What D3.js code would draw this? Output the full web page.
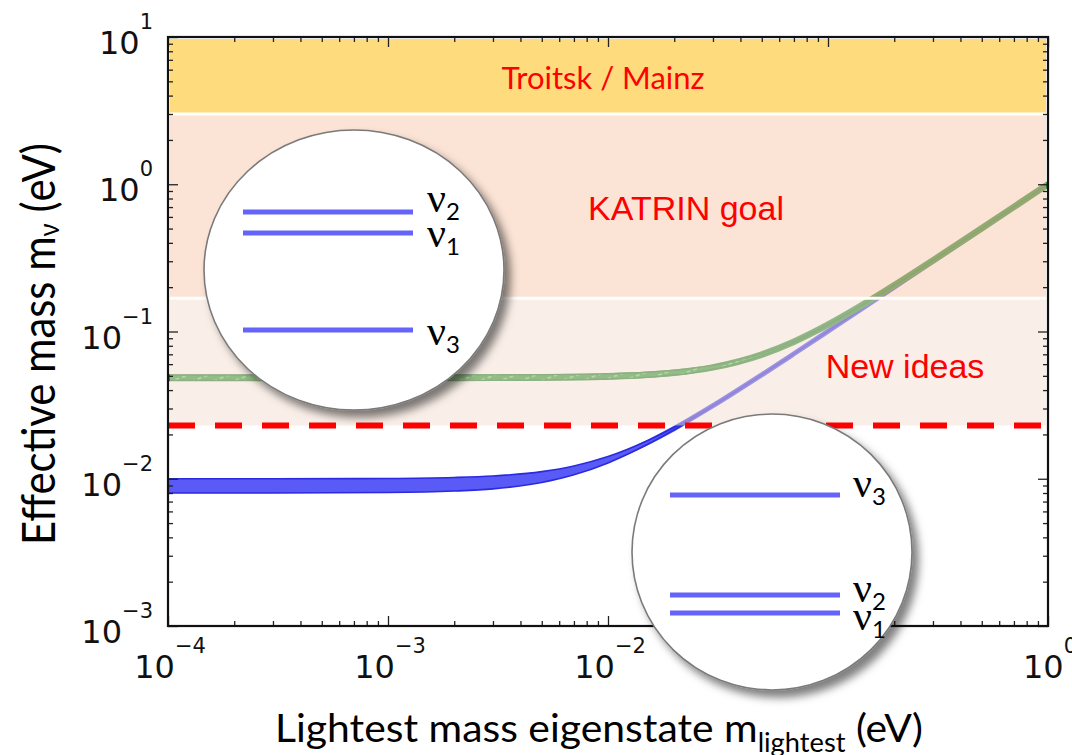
<!DOCTYPE html>
<html>
<head>
<meta charset="utf-8">
<script src="https://cdn.jsdelivr.net/npm/d3@7"></script>
<style>
  html, body { margin: 0; padding: 0; background: #fff; }
  svg { display: block; }
</style>
</head>
<body>
<svg id="chart" width="1072" height="755"></svg>
<script>
// ---- data -------------------------------------------------------------
// lightest neutrino mass eigenstate (eV)
const mLightest = [1e-4, 3e-4, 1e-3, 2e-3, 3e-3, 5e-3, 7e-3, 0.01, 0.015, 0.02,
                   0.03, 0.05, 0.07, 0.1, 0.15, 0.2, 0.3, 0.5, 0.7, 1.0];
// effective electron-neutrino mass band, normal ordering (eV)
const normalLow  = [0.0080, 0.0080, 0.00806, 0.00825, 0.00854, 0.00943, 0.01063, 0.01281, 0.0170, 0.02154,
                    0.03105, 0.05064, 0.07046, 0.1003, 0.1502, 0.2002, 0.3001, 0.5001, 0.7000, 1.0000];
const normalHigh = [0.0100, 0.0100, 0.01005, 0.0102, 0.01044, 0.01118, 0.01221, 0.01414, 0.01803, 0.02236,
                    0.03162, 0.05099, 0.07071, 0.1005, 0.1503, 0.2002, 0.3002, 0.5001, 0.7001, 1.0000];
// effective electron-neutrino mass band, inverted ordering (eV)
const invertedLow  = [0.0465, 0.0465, 0.0465, 0.04652, 0.04657, 0.04674, 0.0470, 0.04754, 0.04884, 0.0506,
                      0.05532, 0.06826, 0.08402, 0.1103, 0.1570, 0.2053, 0.3036, 0.5022, 0.7015, 1.0011];
const invertedHigh = [0.0507, 0.0507, 0.0507, 0.05073, 0.05078, 0.05094, 0.05118, 0.05167, 0.05287, 0.0545,
                      0.05891, 0.0712, 0.08643, 0.1121, 0.1583, 0.2063, 0.3042, 0.5026, 0.7018, 1.0013];

// sensitivity regions (eV)
const regionNames = ["Troitsk / Mainz", "KATRIN goal", "New ideas"];
const regionUpper = [10, 3.0, 0.168];
const regionLower = [3.0, 0.168, 0.023];
const dashedLimit = 0.023;

// axis ticks
const xMajor = [1e-4, 1e-3, 1e-2, 1e-1, 1];
const xMajorExp = [-4, -3, -2, -1, 0];
const yMajor = [1e-3, 1e-2, 1e-1, 1, 10];
const yMajorExp = [-3, -2, -1, 0, 1];

// level diagrams
const normalLevels = ["2", "1", "3"];
const invertedLevels = ["3", "2", "1"];

// ---- layout -----------------------------------------------------------
const plot = { left: 168, right: 1048, top: 37, bottom: 626 };
const svg = d3.select("#chart");

const x = d3.scaleLog().domain([1e-4, 1]).range([plot.left, plot.right]);
const y = d3.scaleLog().domain([1e-3, 10]).range([plot.bottom, plot.top]);

const defs = svg.append("defs");
defs.append("clipPath").attr("id", "plotClip")
  .append("rect")
  .attr("x", plot.left).attr("y", plot.top)
  .attr("width", plot.right - plot.left).attr("height", plot.bottom - plot.top);

const hatch = defs.append("pattern")
  .attr("id", "greenHatch").attr("patternUnits", "userSpaceOnUse")
  .attr("width", 7).attr("height", 7)
  .attr("patternTransform", "rotate(-20)");
hatch.append("rect").attr("width", 7).attr("height", 7).attr("fill", "#2e9a3c");
hatch.append("rect").attr("x", 0).attr("y", 3).attr("width", 4).attr("height", 1.5).attr("fill", "#8fd08a");

const shadow = defs.append("filter").attr("id", "shadow")
  .attr("x", "-20%").attr("y", "-20%").attr("width", "150%").attr("height", "150%");
shadow.append("feDropShadow")
  .attr("dx", 6).attr("dy", 7).attr("stdDeviation", 4)
  .attr("flood-color", "#000").attr("flood-opacity", 0.5);

// ---- mass bands -------------------------------------------------------
const curves = svg.append("g").attr("clip-path", "url(#plotClip)");

function bandArea(lo, hi) {
  return d3.area()
    .x((d, i) => x(mLightest[i]))
    .y0((d, i) => y(lo[i]))
    .y1((d, i) => y(hi[i]))
    .curve(d3.curveMonotoneX)(mLightest);
}
function bandMid(lo, hi) {
  return d3.line()
    .x((d, i) => x(mLightest[i]))
    .y((d, i) => (y(lo[i]) + y(hi[i])) / 2)
    .curve(d3.curveMonotoneX)(mLightest);
}

// normal ordering
curves.append("path")
  .attr("d", bandMid(normalLow, normalHigh))
  .attr("fill", "none").attr("stroke", "#4848f0").attr("stroke-width", 5);
curves.append("path")
  .attr("d", bandArea(normalLow, normalHigh))
  .attr("fill", "#5a5af6")
  .attr("stroke", "#2a2ae0").attr("stroke-width", 1.6);

// inverted ordering
curves.append("path")
  .attr("d", bandMid(invertedLow, invertedHigh))
  .attr("fill", "none").attr("stroke", "#2f8f3a").attr("stroke-width", 6.5);
curves.append("path")
  .attr("d", bandArea(invertedLow, invertedHigh))
  .attr("fill", "url(#greenHatch)")
  .attr("stroke", "#257f30").attr("stroke-width", 1.4);

// ---- sensitivity regions (translucent over the bands) -----------------
const regionFill = ["#fedc7d", "#f7c7ab", "#f5dfd1"];
const regionOpacity = [1, 0.5, 0.5];
const regions = svg.append("g");
regionNames.forEach((name, i) => {
  regions.append("rect")
    .attr("x", plot.left + 2)
    .attr("y", y(regionUpper[i]) + (i === 0 ? 2 : 0))
    .attr("width", plot.right - plot.left - 4)
    .attr("height", y(regionLower[i]) - y(regionUpper[i]) - (i === 0 ? 2 : 0))
    .attr("fill", regionFill[i])
    .attr("fill-opacity", regionOpacity[i]);
});
// white separators between regions
[regionLower[0], regionLower[1]].forEach(v => {
  regions.append("line")
    .attr("x1", plot.left + 2).attr("x2", plot.right - 2)
    .attr("y1", y(v)).attr("y2", y(v))
    .attr("stroke", "#fff").attr("stroke-width", 3);
});

// dashed limit
svg.append("line")
  .attr("x1", x(1e-4)).attr("x2", x(1) - 2)
  .attr("y1", y(dashedLimit)).attr("y2", y(dashedLimit))
  .attr("stroke", "#ff0000").attr("stroke-width", 6)
  .attr("stroke-dasharray", "27,20");

// region labels
const regionLabelPos = [
  { cx: 603, base: 89, font: "Lato", size: 31 },
  { cx: 686, base: 220, font: "Liberation Sans", size: 34 },
  { cx: 905, base: 378, font: "Liberation Sans", size: 34 }
];
regionNames.forEach((name, i) => {
  const p = regionLabelPos[i];
  svg.append("text")
    .attr("x", p.cx).attr("y", p.base)
    .attr("text-anchor", "middle")
    .attr("font-family", p.font).attr("font-size", p.size)
    .attr("fill", "#ff0000")
    .text(name);
});

// ---- axes -------------------------------------------------------------
function minorTicks(domain) {
  const out = [];
  for (let e = Math.round(Math.log10(domain[0])); e < Math.round(Math.log10(domain[1])); e++) {
    for (let k = 2; k <= 9; k++) out.push(k * Math.pow(10, e));
  }
  return out;
}
const xMinor = minorTicks(x.domain());
const yMinor = minorTicks(y.domain());

const axes = svg.append("g").attr("font-family", "DejaVu Sans");
function addAxis(axisFn, scale, transform, values, size) {
  const g = axes.append("g").attr("transform", transform)
    .call(axisFn(scale).tickValues(values).tickSize(-size).tickSizeOuter(0).tickFormat(""));
  g.select(".domain").remove();
  g.selectAll(".tick line").attr("stroke", "#222").attr("stroke-width", 1.3);
}
addAxis(d3.axisLeft,   y, `translate(${plot.left},0)`,   yMajor, 10);
addAxis(d3.axisLeft,   y, `translate(${plot.left},0)`,   yMinor, 5);
addAxis(d3.axisRight,  y, `translate(${plot.right},0)`,  yMajor, 10);
addAxis(d3.axisRight,  y, `translate(${plot.right},0)`,  yMinor, 5);
addAxis(d3.axisBottom, x, `translate(0,${plot.bottom})`, xMajor, 10);
addAxis(d3.axisBottom, x, `translate(0,${plot.bottom})`, xMinor, 5);
addAxis(d3.axisTop,    x, `translate(0,${plot.top})`,    xMajor, 10);
addAxis(d3.axisTop,    x, `translate(0,${plot.top})`,    xMinor, 5);

axes.append("rect")
  .attr("x", plot.left).attr("y", plot.top)
  .attr("width", plot.right - plot.left).attr("height", plot.bottom - plot.top)
  .attr("fill", "none").attr("stroke", "#111").attr("stroke-width", 2.2);

function powerLabel(sel, exp) {
  sel.append("tspan").text("10");
  sel.append("tspan").attr("dy", -25).attr("font-size", 21)
    .text(exp < 0 ? "\u2212" + (-exp) : String(exp));
}
yMajor.forEach((v, i) => {
  const t = axes.append("text")
    .attr("x", 153).attr("y", y(v) + 17)
    .attr("text-anchor", "end").attr("font-size", 32).attr("fill", "#111");
  powerLabel(t, yMajorExp[i]);
});
xMajor.forEach((v, i) => {
  const t = axes.append("text")
    .attr("x", x(v) + 2).attr("y", 678)
    .attr("text-anchor", "middle").attr("font-size", 32).attr("fill", "#111");
  powerLabel(t, xMajorExp[i]);
});

// ---- level diagrams ---------------------------------------------------
function levelDiagram(cx, cy, rx, ry, lines, labels) {
  const g = svg.append("g");
  g.append("ellipse")
    .attr("cx", cx).attr("cy", cy).attr("rx", rx).attr("ry", ry)
    .attr("fill", "#fff").attr("stroke", "#7a7a7a").attr("stroke-width", 1.6)
    .attr("filter", "url(#shadow)");
  lines.forEach((ln, i) => {
    g.append("line")
      .attr("x1", ln.x1).attr("x2", ln.x2).attr("y1", ln.y).attr("y2", ln.y)
      .attr("stroke", "#6464fa").attr("stroke-width", 5);
    const t = g.append("text")
      .attr("x", ln.lx).attr("y", ln.ly)
      .attr("font-family", "Liberation Serif").attr("font-size", 42).attr("fill", "#000");
    t.append("tspan").text("\u03bd");
    t.append("tspan").attr("dx", 0).attr("dy", ln.sdy)
      .attr("font-family", "Lato").attr("font-size", 24).text(labels[i]);
  });
}
levelDiagram(354, 270, 150, 140, [
  { x1: 243, x2: 413, y: 212, lx: 427, ly: 212, sdy: 8 },
  { x1: 243, x2: 413, y: 233, lx: 427, ly: 247, sdy: 8 },
  { x1: 243, x2: 413, y: 330, lx: 427, ly: 345, sdy: 8 }
], normalLevels);
levelDiagram(772, 552, 140, 138, [
  { x1: 670, x2: 840, y: 495, lx: 853, ly: 497, sdy: 8 },
  { x1: 670, x2: 840, y: 595, lx: 853, ly: 602, sdy: 8 },
  { x1: 670, x2: 840, y: 613, lx: 853, ly: 630, sdy: 8 }
], invertedLevels);

// ---- axis titles ------------------------------------------------------
const xTitle = svg.append("text")
  .attr("x", 275).attr("y", 742)
  .attr("font-family", "Lato").attr("font-size", 39).attr("fill", "#000")
  .attr("textLength", 648).attr("lengthAdjust", "spacingAndGlyphs");
xTitle.append("tspan").text("Lightest mass eigenstate m");
xTitle.append("tspan").attr("dy", 10).attr("font-size", 26).text("lightest");
xTitle.append("tspan").attr("dy", -10).text(" (eV)");

const yTitle = svg.append("text")
  .attr("transform", "translate(55,545) rotate(-90)")
  .attr("font-family", "Lato").attr("font-size", 46).attr("fill", "#000")
  .attr("textLength", 402).attr("lengthAdjust", "spacingAndGlyphs");
yTitle.append("tspan").text("Effective mass m");
yTitle.append("tspan").attr("dy", 4).attr("font-size", 28).text("\u03bd");
yTitle.append("tspan").attr("dy", -4).text(" (eV)");
</script>
</body>
</html>
